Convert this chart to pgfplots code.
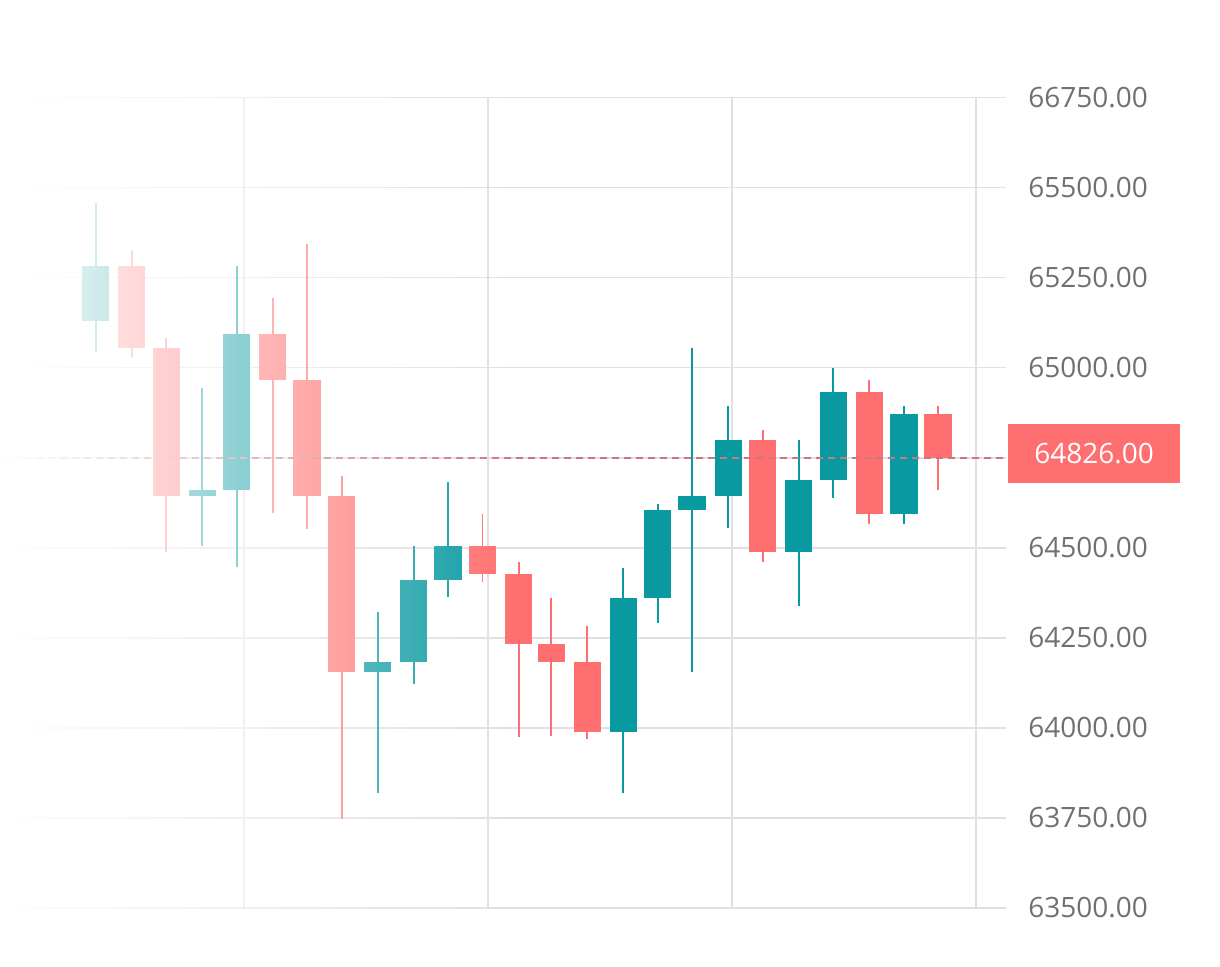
\documentclass[border=0pt]{standalone}
\usepackage{pgfplots}
\pgfplotsset{compat=1.18}
\usepackage{pgfplotstable}
\usepackage{fontspec}
\setmainfont{Open Sans}
\usetikzlibrary{fadings}

\definecolor{upc}{HTML}{0899A1}
\definecolor{dnc}{HTML}{FF6F6F}
\definecolor{gridc}{HTML}{E0E0E4}
\definecolor{labc}{HTML}{707070}
\definecolor{dashc}{HTML}{C8787F}

\tikzfading[name=oldfade, left color=transparent!0, right color=transparent!100]

% candles: x position, open, high, low, close
\pgfplotstableread{
x     o      h      l      c
95.7  65130  65457  65043  65282
202.3 64644  64943  64506  64660
236.7 64661  65282  64446  65094
377.7 64156  64321  63818  64182
413.7 64183  64505  64122  64410
448.0 64411  64682  64362  64505
623.3 63989  64444  63818  64361
657.7 64361  64621  64290  64605
692.0 64606  65054  64156  64644
728.3 64644  64894  64556  64799
798.7 64489  64799  64338  64688
833.3 64689  64999  64639  64932
904.0 64594  64894  64567  64871
}\upcandles

\pgfplotstableread{
x     o      h      l      c
131.8 65282  65327  65031  65056
166.3 65055  65082  64489  64644
272.8 65094  65193  64596  64967
307.0 64966  65344  64551  64644
341.7 64644  64700  63746  64156
482.5 64505  64594  64406  64428
518.8 64427  64460  63973  64233
551.2 64233  64361  63977  64183
587.3 64182  64282  63968  63989
762.8 64799  64827  64461  64489
869.3 64932  64966  64567  64594
938.0 64871  64894  64661  64750
}\downcandles

\pgfplotsset{
    candle/.style 2 args={forget plot, draw=none, no markers,
        error bars/.cd, y dir=plus, y explicit, error mark=none,
        error bar style={draw=#1, line width=#2, line cap=butt}},
}

\begin{document}
\begin{tikzpicture}
\begin{axis}[
    scale only axis,
    width=502.85pt, height=405pt,
    xmin=0, xmax=1005.7,
    ymin=63500, ymax=65750,
    clip=false,
    axis line style={draw=none},
    major tick length=0pt,
    tick style={draw=none},
    scaled y ticks=false,
    xtick={244,488,732,976},
    xticklabels={},
    ytick={63500,63750,64000,64250,64500,64750,65000,65250,65500,65750},
    yticklabels={63500.00,63750.00,64000.00,64250.00,64500.00,{},65000.00,65250.00,65500.00,66750.00},
    yticklabel pos=right,
    yticklabel style={anchor=west, inner sep=0pt, xshift=11.15pt, text=labc,
        font=\fontsize{14pt}{16pt}\selectfont},
    grid=major,
    grid style={draw=gridc, line width=0.8pt},
]
    % wicks
    \addplot[candle={upc}{0.85pt}]
        table[x=x, y=l, y error expr=\thisrow{h}-\thisrow{l}] {\upcandles};
    \addplot[candle={dnc}{0.85pt}]
        table[x=x, y=l, y error expr=\thisrow{h}-\thisrow{l}] {\downcandles};
    % bodies
    \addplot[candle={upc}{13.65pt}]
        table[x=x, y=o, y error expr=\thisrow{c}-\thisrow{o}] {\upcandles};
    \addplot[candle={dnc}{13.65pt}]
        table[x=x, y=c, y error expr=\thisrow{o}-\thisrow{c}] {\downcandles};

    % last price line
    \addplot[forget plot, dashc, line width=0.85pt, dash pattern=on 3.5pt off 2.5pt]
        coordinates {(0,64750) (1005.7,64750)};

    % fade on the older candles
    \fill[white, path fading=oldfade]
        (axis cs:-2,63450) rectangle (axis cs:520,65800);

    \node[fill=dnc, text=white, minimum width=86pt, minimum height=29.65pt,
        inner sep=0pt, font=\fontsize{14pt}{16pt}\selectfont]
        at (axis cs:1094,64761) {64826.00};
\end{axis}
\pgfresetboundingbox
\path (0pt,-29.15pt) rectangle (610pt,453.85pt);
\end{tikzpicture}
\end{document}
